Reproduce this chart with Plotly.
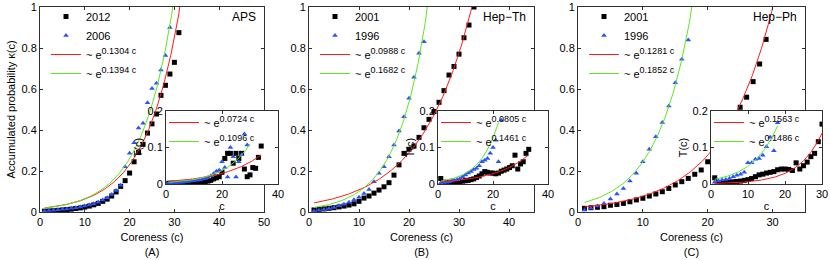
import numpy as np
import plotly.graph_objects as go

W, H = 830, 260

# ---------------- Panel A : APS ----------------
a_c_2012 = list(range(1, 32))
a_k_2012 = [0.004, 0.005, 0.006, 0.008, 0.010, 0.012, 0.014, 0.017, 0.020, 0.024,
            0.029, 0.035, 0.042, 0.052, 0.063, 0.078, 0.098, 0.125, 0.153, 0.190,
            0.245, 0.290, 0.330, 0.385, 0.430, 0.478, 0.569, 0.618, 0.673, 0.730,
            0.875]
a_c_2006 = list(range(1, 30))
a_k_2006 = [0.005, 0.007, 0.009, 0.011, 0.013, 0.015, 0.018, 0.021, 0.025, 0.029,
            0.034, 0.040, 0.048, 0.058, 0.070, 0.085, 0.105, 0.130, 0.221, 0.286,
            0.338, 0.410, 0.433, 0.533, 0.603, 0.628, 0.693, 0.764, 0.900]
a_fit_2012 = (0.0170, 0.1304)   # prefactor, exponent
a_fit_2006 = (0.0160, 0.1394)

a_in_c_2012 = list(range(1, 35))
a_in_t_2012 = [0.002, 0.002, 0.002, 0.002, 0.002, 0.002, 0.003, 0.003, 0.003, 0.004,
               0.004, 0.005, 0.006, 0.007, 0.008, 0.010, 0.014, 0.017, 0.020, 0.032,
               0.070, 0.084, 0.084, 0.057, 0.084, 0.070, 0.084, 0.041, 0.020, 0.025,
               0.045, 0.043, 0.073, 0.104]
a_in_c_2006 = list(range(1, 30))
a_in_t_2006 = [0.003, 0.003, 0.004, 0.004, 0.005, 0.005, 0.006, 0.007, 0.008, 0.009,
               0.010, 0.011, 0.013, 0.015, 0.018, 0.022, 0.028, 0.035, 0.038, 0.061,
               0.045, 0.019, 0.100, 0.075, 0.019, 0.061, 0.080, 0.137, 0.107]
a_in_fit_2012 = (0.0068, 0.0724, 34)   # prefactor, exponent, last c
a_in_fit_2006 = (0.0041, 0.1096, 30)

# ---------------- Panel B : Hep-Th ----------------
b_c_2001 = list(range(1, 34))
b_k_2001 = [0.010, 0.012, 0.015, 0.018, 0.021, 0.025, 0.029, 0.034, 0.040, 0.052,
            0.068, 0.078, 0.092, 0.107, 0.123, 0.143, 0.180, 0.230, 0.286, 0.306,
            0.322, 0.364, 0.411, 0.452, 0.490, 0.535, 0.592, 0.668, 0.710, 0.770,
            0.850, 0.912, 1.000]
b_c_1996 = list(range(1, 24))
b_k_1996 = [0.005, 0.008, 0.012, 0.017, 0.022, 0.030, 0.038, 0.048, 0.060, 0.072,
            0.090, 0.110, 0.148, 0.189, 0.221, 0.270, 0.327, 0.395, 0.465, 0.555,
            0.657, 0.774, 0.831]
b_fit_2001 = (0.0400, 0.0988)
b_fit_1996 = (0.0185, 0.1682)

b_in_c_2001 = list(range(1, 34))
b_in_t_2001 = [0.015, 0.005, 0.004, 0.004, 0.005, 0.005, 0.006, 0.007, 0.008, 0.009,
               0.010, 0.012, 0.014, 0.018, 0.022, 0.028, 0.034, 0.032, 0.030, 0.030,
               0.028, 0.030, 0.035, 0.038, 0.041, 0.045, 0.050, 0.079, 0.041, 0.055,
               0.061, 0.084, 0.095]
b_in_c_1996 = list(range(1, 24))
b_in_t_1996 = [0.003, 0.004, 0.005, 0.006, 0.008, 0.010, 0.012, 0.015, 0.020, 0.025,
               0.030, 0.034, 0.040, 0.043, 0.050, 0.061, 0.065, 0.070, 0.084, 0.100,
               0.120, 0.061, 0.175]
b_in_fit_2001 = (0.0056, 0.0805, 33)
b_in_fit_1996 = (0.0068, 0.1461, 22)

# ---------------- Panel C : Hep-Ph ----------------
c_c_2001 = list(range(1, 30))
c_k_2001 = [0.018, 0.021, 0.023, 0.026, 0.033, 0.037, 0.042, 0.050, 0.059, 0.067,
            0.078, 0.088, 0.099, 0.115, 0.132, 0.148, 0.164, 0.184, 0.205, 0.245,
            0.286, 0.340, 0.390, 0.445, 0.511, 0.560, 0.636, 0.722, 0.842]
c_c_1996 = list(range(1, 18))
c_k_1996 = [0.010, 0.018, 0.029, 0.042, 0.063, 0.088, 0.115, 0.151, 0.189, 0.245,
            0.306, 0.367, 0.437, 0.517, 0.630, 0.745, 0.839]
c_fit_2001 = (0.0213, 0.1281)
c_fit_1996 = (0.0384, 0.1852)

c_in_c_2001 = list(range(1, 31))
c_in_t_2001 = [0.017, 0.004, 0.004, 0.005, 0.005, 0.006, 0.007, 0.008, 0.010, 0.012,
               0.015, 0.020, 0.025, 0.027, 0.030, 0.032, 0.034, 0.039, 0.041, 0.041,
               0.040, 0.037, 0.058, 0.041, 0.050, 0.060, 0.075, 0.084, 0.116, 0.164]
c_in_c_1996 = list(range(1, 19))
c_in_t_1996 = [0.005, 0.009, 0.011, 0.012, 0.015, 0.020, 0.024, 0.027, 0.032, 0.058,
               0.058, 0.068, 0.070, 0.079, 0.102, 0.128, 0.091, 0.168]
c_in_fit_2001 = (0.00128, 0.1563, 30)
c_in_fit_1996 = (0.0110, 0.1486, 18)

panel_titles = ["APS", "Hep\u2212Th", "Hep\u2212Ph"]
panel_letters = ["(A)", "(B)", "(C)"]
main_xmax = [50, 45, 35]
main_xticks = [[0, 10, 20, 30, 40, 50], [0, 10, 20, 30, 40], [0, 10, 20, 30]]
inset_xmax = [40, 40, 30]
inset_xticks = [[0, 20, 40], [0, 20, 40], [0, 10, 20, 30]]

RED = "#ff1a1a"
GREEN = "#5fe61e"
BLUE = "#2a52ff"
AX = "#303030"
FONT = "Liberation Sans, Arial, sans-serif"

# pixel boxes: (left, right) for x, (top, bottom) for y
main_px = [(40, 264), (309, 534), (578, 805)]
inset_px = [(166, 278), (438, 548), (711, 822)]
main_py = (7, 212)
inset_py = (111, 184)


def xdom(p):
    return [p[0] / W, p[1] / W]


def ydom(p):
    return [1 - p[1] / H, 1 - p[0] / H]


def fit_label(rate):
    return f"~ e<sup><span style=\"font-size:9px\">{rate:.4f} c</span></sup>"


fig = go.Figure()

panels = [
    dict(main=[(a_c_2012, a_k_2012, "2012"), (a_c_2006, a_k_2006, "2006")],
         fits=[a_fit_2012, a_fit_2006],
         inset=[(a_in_c_2012, a_in_t_2012), (a_in_c_2006, a_in_t_2006)],
         ifits=[a_in_fit_2012, a_in_fit_2006]),
    dict(main=[(b_c_2001, b_k_2001, "2001"), (b_c_1996, b_k_1996, "1996")],
         fits=[b_fit_2001, b_fit_1996],
         inset=[(b_in_c_2001, b_in_t_2001), (b_in_c_1996, b_in_t_1996)],
         ifits=[b_in_fit_2001, b_in_fit_1996]),
    dict(main=[(c_c_2001, c_k_2001, "2001"), (c_c_1996, c_k_1996, "1996")],
         fits=[c_fit_2001, c_fit_1996],
         inset=[(c_in_c_2001, c_in_t_2001), (c_in_c_1996, c_in_t_1996)],
         ifits=[c_in_fit_2001, c_in_fit_1996]),
]

marker_styles = [dict(symbol="square", size=5, color="black"),
                 dict(symbol="triangle-up", size=5, color=BLUE)]
fit_colors = [RED, GREEN]

legend_layout = {}
for i, p in enumerate(panels):
    mi = 2 * i + 1
    ii = 2 * i + 2
    mx, my = ("x" if mi == 1 else f"x{mi}"), ("y" if mi == 1 else f"y{mi}")
    ix, iy = f"x{ii}", f"y{ii}"
    mleg = "legend" if mi == 1 else f"legend{mi}"
    ileg = f"legend{ii}"

    for (cx, cy, name), ms in zip(p["main"], marker_styles):
        fig.add_trace(go.Scatter(x=cx, y=cy, mode="markers", name=name,
                                 marker=ms, xaxis=mx, yaxis=my, legend=mleg))
    for (pref, rate), col in zip(p["fits"], fit_colors):
        cc = np.linspace(1, main_xmax[i], 300)
        fig.add_trace(go.Scatter(x=cc, y=pref * np.exp(rate * cc), mode="lines",
                                 name=fit_label(rate),
                                 line=dict(color=col, width=1),
                                 xaxis=mx, yaxis=my, legend=mleg))
    for (cx, cy), ms in zip(p["inset"], marker_styles):
        fig.add_trace(go.Scatter(x=cx, y=cy, mode="markers", showlegend=False,
                                 marker=ms, xaxis=ix, yaxis=iy))
    for (pref, rate, cend), col in zip(p["ifits"], fit_colors):
        cc = np.linspace(1, cend, 200)
        fig.add_trace(go.Scatter(x=cc, y=pref * np.exp(rate * cc), mode="lines",
                                 name=fit_label(rate),
                                 line=dict(color=col, width=1),
                                 xaxis=ix, yaxis=iy, legend=ileg))

    common = dict(showline=True, linecolor=AX, linewidth=1, mirror="ticks",
                  ticks="inside", ticklen=3, tickcolor=AX, showgrid=False,
                  zeroline=False, tickfont=dict(size=11, color="black"))
    mxk = "xaxis" if mi == 1 else f"xaxis{mi}"
    myk = "yaxis" if mi == 1 else f"yaxis{mi}"
    ymain = dict(common, domain=ydom(main_py), range=[0, 1],
                 tickvals=[0, 0.2, 0.4, 0.6, 0.8, 1], anchor=mx)
    if i == 0:
        ymain["title"] = dict(text="Accumulated probability \u03ba(c)",
                              font=dict(size=11), standoff=3)
    fig.update_layout({
        mxk: dict(common, domain=xdom(main_px[i]), range=[0, main_xmax[i]],
                  tickvals=main_xticks[i], anchor=my,
                  title=dict(text=f"Coreness (c)<br>{panel_letters[i]}",
                             font=dict(size=11), standoff=6)),
        myk: ymain,
        f"xaxis{ii}": dict(common, domain=xdom(inset_px[i]), range=[0, inset_xmax[i]],
                           tickvals=inset_xticks[i], anchor=iy,
                           title=dict(text="c", font=dict(size=11), standoff=3)),
        f"yaxis{ii}": dict(common, domain=ydom(inset_py), range=[0, 0.2],
                           tickvals=[0, 0.1, 0.2], anchor=ix,
                           title=dict(text="T(c)", font=dict(size=11), standoff=2)),
    })
    legend_layout[mleg] = dict(x=(main_px[i][0] + 6) / W, y=1 - 2 / H,
                               xanchor="left", yanchor="top",
                               bgcolor="rgba(0,0,0,0)", borderwidth=0,
                               font=dict(size=11, color="black"), tracegroupgap=0)
    legend_layout[ileg] = dict(x=(inset_px[i][0] - 2) / W, y=1 - (inset_py[0] - 3) / H,
                               xanchor="left", yanchor="top",
                               bgcolor="rgba(0,0,0,0)", borderwidth=0,
                               font=dict(size=11, color="black"), tracegroupgap=0)
    fig.add_annotation(text=panel_titles[i], xref="paper", yref="paper",
                       x=(main_px[i][1] - 6) / W, y=1 - 17 / H,
                       xanchor="right", yanchor="middle", showarrow=False,
                       font=dict(size=12, color="black"))

fig.update_layout(**legend_layout)
fig.update_layout(width=W, height=H, margin=dict(l=0, r=0, t=0, b=0),
                  template="none", paper_bgcolor="white", plot_bgcolor="white",
                  font=dict(family=FONT, size=11, color="black"))

fig.write_html("out.html", config={"displayModeBar": False},
               post_script="document.body.style.margin='0px';"
                           "document.documentElement.style.margin='0px';")
